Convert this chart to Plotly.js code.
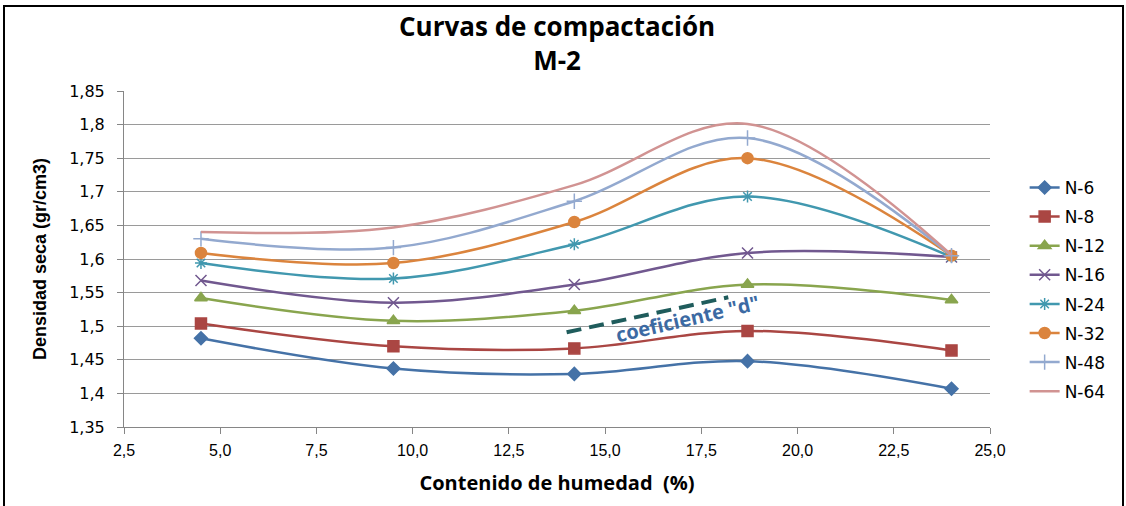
<!DOCTYPE html>
<html><head><meta charset="utf-8">
<script src="https://cdn.plot.ly/plotly-3.0.1.min.js"></script>
<style>
html,body{margin:0;padding:0;background:#fff;}
#wrap{position:relative;width:1126px;height:506px;}
#chart{width:1126px;height:506px;}
#frame{position:absolute;left:3px;top:5px;width:1117px;height:510px;border:2px solid #000;pointer-events:none;}
</style></head>
<body>
<div id="wrap"><div id="chart"></div><div id="frame"></div></div>
<script>
// Moisture content (%)
const humedad = [4.5, 9.5, 14.2, 18.7, 24.0];
// Dry density (gr/cm3) per series
const seriesNames = ["N-6","N-8","N-12","N-16","N-24","N-32","N-48","N-64"];
const n6  = [1.482, 1.437, 1.429, 1.448, 1.407];
const n8  = [1.504, 1.470, 1.467, 1.493, 1.464];
const n12 = [1.542, 1.508, 1.523, 1.562, 1.539];
const n16 = [1.568, 1.535, 1.562, 1.609, 1.603];
const n24 = [1.594, 1.571, 1.622, 1.693, 1.603];
const n32 = [1.609, 1.594, 1.655, 1.750, 1.605];
const n48 = [1.630, 1.617, 1.686, 1.780, 1.605];
const n64 = [1.640, 1.647, 1.710, 1.801, 1.606];
const values = [n6,n8,n12,n16,n24,n32,n48,n64];

const colors = ["#4572A7","#AA4643","#89A54E","#71588F","#4198AF","#DB843D","#93A9CF","#D19392"];
const symbols = ["diamond","square","triangle-up","x-thin-open","asterisk-open","circle","cross-thin-open","circle"];
const sizes = [10,11,11,11,10,11,11,0];

const traces = seriesNames.map((name,i)=>({
  type:"scatter",
  mode: i===7 ? "lines" : "lines+markers",
  name:name,
  x:humedad,
  y:values[i],
  line:{color:colors[i],width:2.5,shape:"spline",smoothing:1},
  marker:{symbol:symbols[i],size:sizes[i],color:colors[i],line:{color:colors[i],width:1.5}},
  legendgroup:"g"+i
}));

const layout = {
  width:1126, height:506,
  margin:{l:124,r:136,t:91,b:79},
  paper_bgcolor:"#fff", plot_bgcolor:"#fff",
  separators:", ",
  showlegend:true,
  xaxis:{range:[2.5,25],dtick:2.5,tick0:2.5,tickformat:".1f",
    showgrid:false,zeroline:false,showline:true,linecolor:"#868686",linewidth:1,
    ticks:"outside",ticklen:6,tickcolor:"#868686",ticklabelstandoff:3,
    tickfont:{family:"Liberation Sans Narrow, Liberation Sans, sans-serif",size:16,color:"#000"},
    title:{text:"<b>Contenido de humedad  (%)</b>",standoff:17,
      font:{family:"Open Sans, sans-serif",size:20,color:"#000"}}},
  yaxis:{range:[1.35,1.85],dtick:0.05,tick0:1.35,
    showgrid:true,gridcolor:"#9a9a9a",gridwidth:1,zeroline:false,
    showline:true,linecolor:"#868686",linewidth:1,
    ticks:"outside",ticklen:6,tickcolor:"#868686",ticklabelstandoff:9,
    tickfont:{family:"DejaVu Sans, sans-serif",size:16,color:"#000"},
    title:{text:"<b>Densidad seca (gr/cm3)</b>",standoff:17,
      font:{family:"Liberation Sans Narrow, Liberation Sans, sans-serif",size:18,color:"#000"}}},
  legend:{x:1.040,xanchor:"left",y:0.765,yanchor:"top",traceorder:"grouped",tracegroupgap:4,
    font:{family:"DejaVu Sans, sans-serif",size:17,color:"#000"},bgcolor:"rgba(0,0,0,0)"},
  shapes:[{type:"line",xref:"x",yref:"y",x0:14.0,y0:1.491,x1:18.2,y1:1.543,
    line:{color:"#1F5C5C",width:4,dash:"15px,8px"}}],
  annotations:[
    {xref:"paper",yref:"paper",x:0.5,y:1.143,xanchor:"center",yanchor:"middle",showarrow:false,
     text:"<b>Curvas de compactación</b><br><b>M-2</b>",
     font:{family:"Open Sans, sans-serif",size:26,color:"#000"}},
    {xref:"x",yref:"y",x:17.15,y:1.512,text:"<b>coeficiente \"d\"</b>",showarrow:false,
    textangle:-13,font:{family:"Open Sans, sans-serif",size:20,color:"#3C6AA3"}}]
};
Plotly.newPlot("chart",traces,layout,{displayModeBar:false,staticPlot:true});
</script>
</body></html>
